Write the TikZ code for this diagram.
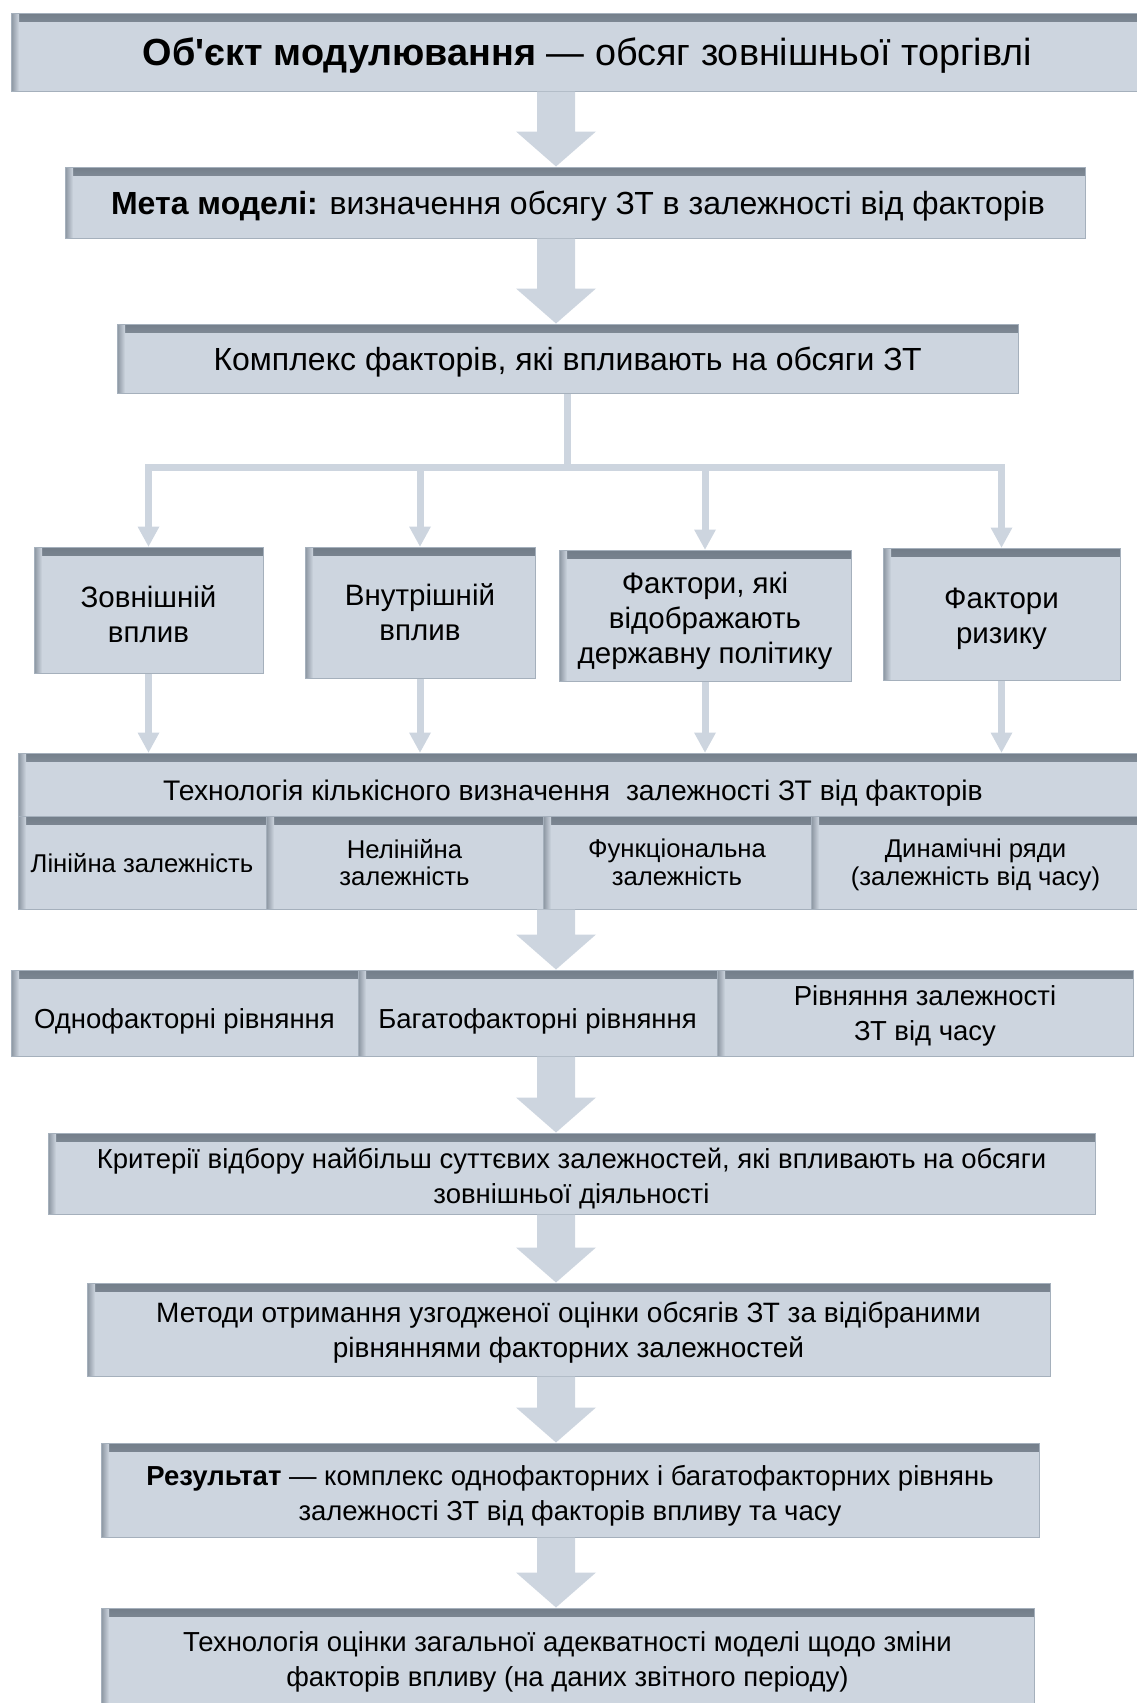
\documentclass[tikz,border=0pt]{standalone}
\usepackage{fontspec}
\setmainfont{Liberation Sans}
\usetikzlibrary{arrows.meta,calc}
\definecolor{boxFill}{RGB}{205,213,223}
\definecolor{boxLine}{RGB}{165,176,188}
\definecolor{boxShade}{RGB}{112,123,135}
\definecolor{arrowFill}{RGB}{205,213,223}

\newcommand{\titlefont}{\fontsize{37.8}{44}\selectfont}
\newcommand{\bigfont}{\fontsize{32}{38}\selectfont}
\newcommand{\factfont}{\fontsize{29.5}{35}\selectfont}
\newcommand{\midfont}{\fontsize{28}{35.5}\selectfont}
\newcommand{\lowfont}{\fontsize{27.5}{34.7}\selectfont}
\newcommand{\cellfont}{\fontsize{25.7}{27.7}\selectfont}
\newcommand{\sinktext}[2][6pt]{\raisebox{-#1}[\height][\depth]{#2}}

% wide arrow between two boxes, on the main axis
\newcommand{\blockarrow}[2]{%
  \fill[arrowFill] ($(#1.south -| axis)+(-19,0)$) -- ($(#1.south -| axis)+(19,0)$)
    -- ($(#2.north -| axis)+(19,-35)$) -- ($(#2.north -| axis)+(40,-35)$)
    -- (#2.north -| axis) -- ($(#2.north -| axis)+(-40,-35)$)
    -- ($(#2.north -| axis)+(-19,-35)$) -- cycle;}

\begin{document}
\begin{tikzpicture}[x=1pt,y=-1pt,
    box/.style={draw=boxLine, line width=1pt, fill=boxFill, align=center,
      inner sep=0pt, text depth=0pt, font=\lowfont,
      path picture={
        \shade[top color=boxShade, bottom color=boxFill]
          ([yshift=3pt]path picture bounding box.north west) rectangle ([yshift=-8pt]path picture bounding box.north east);
        \shade[left color=boxShade, right color=boxFill]
          ([xshift=-3pt]path picture bounding box.north west) rectangle ([xshift=8pt]path picture bounding box.south west);
      }},
    branch/.style={draw=arrowFill, line width=7pt},
    tip/.style={-{Triangle[width=22pt,length=20pt,line width=0pt]}}]
  \useasboundingbox (0,0) rectangle (1137,1703);
  \coordinate (axis) at (556,0);

  % Object and goal
  \node[box, font=\titlefont, minimum width=1129pt, minimum height=78pt] (obj) at (575.5,52)
    {\hspace*{24pt}\textbf{Об\textquotesingle єкт модулювання} — обсяг зовнішньої торгівлі};
  \node[box, font=\bigfont, minimum width=1020pt, minimum height=71pt] (goal) at (575,202.5)
    {\hspace*{6pt}\textbf{Мета моделі:} визначення обсягу ЗТ в залежності від факторів};
  \node[box, font=\bigfont, minimum width=901pt, minimum height=69pt] (cx) at (567.5,358.5)
    {Комплекс факторів, які впливають на обсяги ЗТ};
  \blockarrow{obj}{goal}
  \blockarrow{goal}{cx}

  % Factors
  \node[box, font=\factfont, minimum width=229pt, minimum height=126pt] (f1) at (148.5,610)
    {\sinktext[4.5pt]{Зовнішній}\\\sinktext[4.5pt]{вплив}};
  \node[box, font=\factfont, minimum width=230pt, minimum height=131pt] (f2) at (420,612.5) {Внутрішній\\вплив};
  \node[box, font=\factfont, minimum width=292pt, minimum height=131pt] (f3) at (705,615.5)
    {\sinktext[2pt]{Фактори, які}\\\sinktext[2pt]{відображають}\\\sinktext[2pt]{державну політику}};
  \node[box, font=\factfont, minimum width=237pt, minimum height=132pt] (f4) at (1001.5,614)
    {\sinktext[2pt]{Фактори}\\\sinktext[2pt]{ризику}};

  \coordinate (hub) at ([yshift=-74pt]cx.south);
  \draw[branch] (cx.south) -- (hub);
  \foreach \f in {f1,f2,f3,f4}
    \draw[branch, tip] (hub) -| (\f.north);

  % Technology
  \node[box, font=\fontsize{28.3}{35.5}\selectfont, minimum width=1122pt, minimum height=63pt] (tech) at (579,784.5)
    {\sinktext{Технологія кількісного визначення~ залежності ЗТ від факторів}\hspace*{12pt}};
  \node[box, font=\cellfont, minimum width=248pt, minimum height=93pt] (tc1) at (142,862.5)
    {Лінійна залежність};
  \node[box, font=\cellfont, minimum width=277pt, minimum height=93pt] (tc2) at (404.5,862.5)
    {Нелінійна\\залежність};
  \node[box, font=\cellfont, minimum width=268pt, minimum height=93pt] (tc3) at (677,862.5)
    {Функціональна\\залежність};
  \node[box, font=\cellfont, minimum width=329pt, minimum height=93pt] (tc4) at (975.5,862.5)
    {Динамічні ряди\\(залежність від часу)};
  \foreach \f in {f1,f2,f3,f4}
    \draw[branch, tip] (\f.south) -- (\f.south |- tech.north);

  % Equations
  \node[box, minimum width=347pt, minimum height=86pt] (r1) at (184.5,1013) {\sinktext{Однофакторні рівняння}};
  \node[box, minimum width=359pt, minimum height=86pt] (r2) at (537.5,1013) {\sinktext{Багатофакторні рівняння}};
  \node[box, minimum width=416pt, minimum height=86pt] (r3) at (925,1013)
    {Рівняння залежності\\ЗТ від часу};
  \blockarrow{tc2}{r2}

  % Selection, methods, result
  \node[box, minimum width=1047pt, minimum height=81pt] (crit) at (571.5,1173.5)
    {\sinktext[2pt]{Критерії відбору найбільш суттєвих залежностей, які впливають на обсяги}\\
     \sinktext[2pt]{зовнішньої діяльності}};
  \node[box, font=\midfont, minimum width=963pt, minimum height=93pt] (meth) at (568.5,1329.5)
    {Методи отримання узгодженої оцінки обсягів ЗТ за відібраними\\рівняннями факторних залежностей};
  \node[box, minimum width=938pt, minimum height=94pt] (res) at (570,1490)
    {\sinktext[3pt]{\textbf{Результат} — комплекс однофакторних і багатофакторних рівнянь}\\
     \sinktext[3pt]{залежності ЗТ від факторів впливу та часу}};
  \node[box, minimum width=933pt, minimum height=102pt] (adeq) at (567.5,1659)
    {Технологія оцінки загальної адекватності моделі щодо зміни\\факторів впливу (на даних звітного періоду)};
  \blockarrow{r2}{crit}
  \blockarrow{crit}{meth}
  \blockarrow{meth}{res}
  \blockarrow{res}{adeq}
\end{tikzpicture}
\end{document}
